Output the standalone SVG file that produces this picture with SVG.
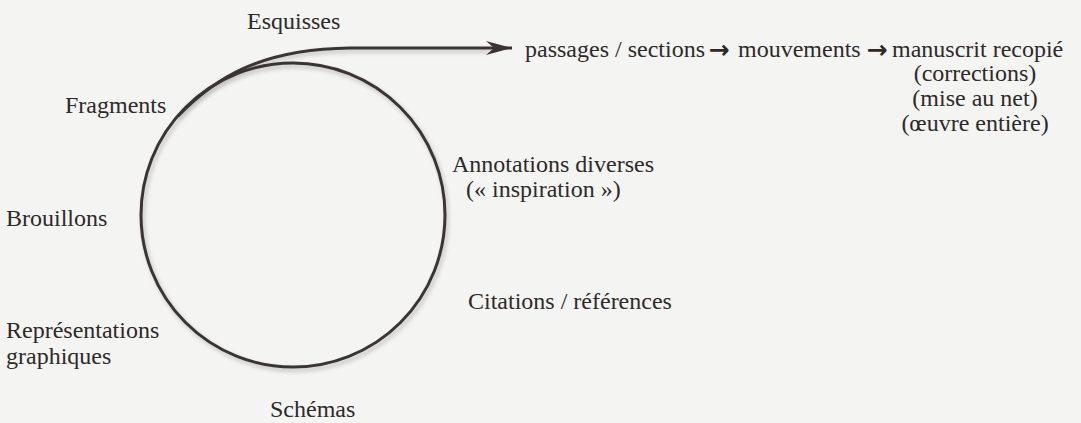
<svg xmlns="http://www.w3.org/2000/svg" width="1081" height="423" viewBox="0 0 1081 423">
  <style>
    .lbl { font-family: "Liberation Serif", "Times New Roman", serif; font-size: 24px; fill: #2e2a2a; }
    .mid { text-anchor: middle; }
    .arr { font-family: "DejaVu Sans", sans-serif; font-size: 25px; font-weight: bold; fill: #2e2a2a; text-anchor: middle; }
    .line { fill: none; stroke: #3a3434; stroke-width: 3; }
    .shadow { fill: none; stroke: #9a9a9a; stroke-width: 3; opacity: 0.6; }
  </style>
  <defs>
    <filter id="blur" x="-20%" y="-20%" width="140%" height="140%">
      <feGaussianBlur stdDeviation="2"/>
    </filter>
    <marker id="head" markerUnits="userSpaceOnUse" markerWidth="30" markerHeight="16" refX="26" refY="8" orient="auto">
      <path d="M0,1 L26,8 L0,15 L8,8 Z" fill="#3a3434"/>
    </marker>
  </defs>
  <rect width="1081" height="423" fill="#f4f4f2"/>

  <g id="connectors">
    <circle class="shadow" cx="295" cy="218" r="152" filter="url(#blur)"/>
    <path class="shadow" d="M178,118 C215,80 260,52 350,51 L490,51" filter="url(#blur)"/>
    <circle id="cycle" class="line" cx="293" cy="215" r="152"/>
    <path id="arrow" class="line" d="M178,116 C215,78 260,49 350,48 L512,48" marker-end="url(#head)"/>
  </g>

  <g id="node-esquisses"><text class="lbl" x="247" y="29">Esquisses</text></g>
  <g id="node-fragments"><text class="lbl" x="65" y="113">Fragments</text></g>
  <g id="node-brouillons"><text class="lbl" x="6" y="226">Brouillons</text></g>
  <g id="node-representations">
    <text class="lbl" x="6" y="338">Représentations</text>
    <text class="lbl" x="6" y="364">graphiques</text>
  </g>
  <g id="node-schemas"><text class="lbl" x="270" y="417">Schémas</text></g>
  <g id="node-citations"><text class="lbl" x="468" y="309">Citations / références</text></g>
  <g id="node-annotations">
    <text class="lbl" x="452" y="172">Annotations diverses</text>
    <text class="lbl" x="466" y="197">(« inspiration »)</text>
  </g>
  <g id="node-sequence">
    <text class="lbl" x="525" y="57">passages / sections</text>
    <text class="arr" x="719" y="58">→</text>
    <text class="lbl" x="738" y="57">mouvements</text>
    <text class="arr" x="877" y="58">→</text>
    <text class="lbl" x="892" y="57">manuscrit recopié</text>
    <text class="lbl mid" x="975" y="81">(corrections)</text>
    <text class="lbl mid" x="975" y="106">(mise au net)</text>
    <text class="lbl mid" x="975" y="131">(œuvre entière)</text>
  </g>
</svg>
